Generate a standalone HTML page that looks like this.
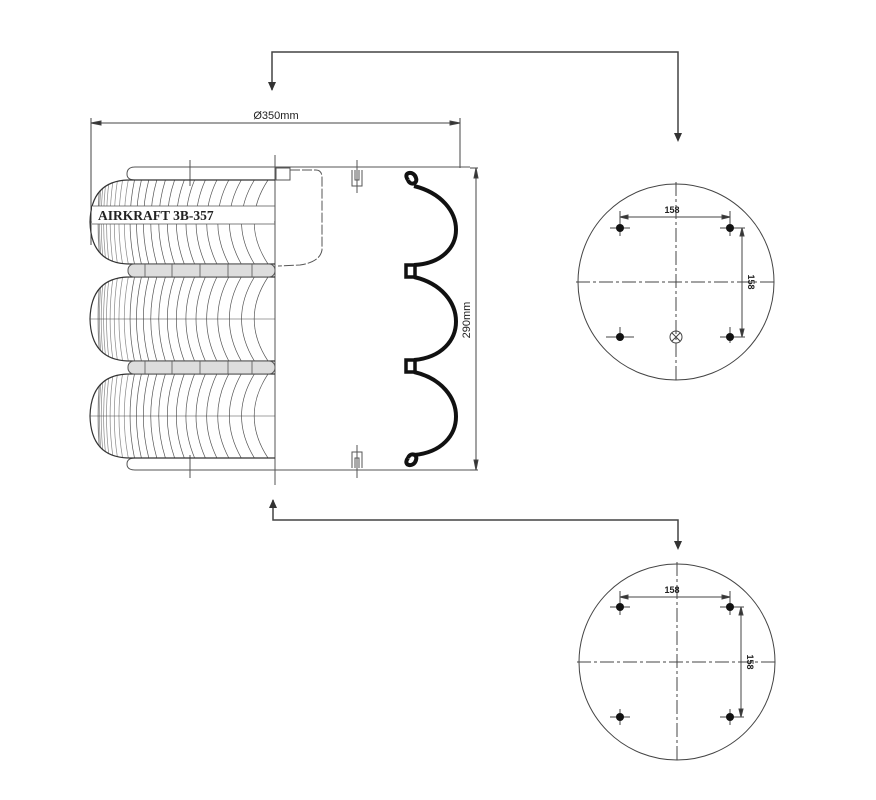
<!DOCTYPE html>
<html><head><meta charset="utf-8">
<style>html,body{margin:0;padding:0;background:#fff;}svg{display:block}</style>
</head><body>
<svg id="s" width="876" height="800" viewBox="0 0 876 800" xmlns="http://www.w3.org/2000/svg" font-family="Liberation Sans, sans-serif">
<defs id="defs"></defs>
<g fill="none" stroke="#444" stroke-width="1.5">
<path d="M272,90 L272,52 L678,52 L678,140"/>
<path d="M268,82 L276,82 L272,91 Z M674,133 L682,133 L678,142 Z" fill="#333" stroke="none"/>
<path d="M273,500 L273,520 L678,520 L678,548"/>
<path d="M269,508 L277,508 L273,499 Z M674,541 L682,541 L678,550 Z" fill="#333" stroke="none"/>
</g>
<g stroke="#444" stroke-width="1" fill="none">
<line x1="91" y1="123" x2="460" y2="123"/>
<line x1="91" y1="118" x2="91" y2="245"/>
<line x1="460" y1="118" x2="460" y2="168"/>
<path d="M91,123 l10,-2 v4 Z M460,123 l-10,-2 v4 Z" fill="#333"/>
<line x1="470" y1="168" x2="478" y2="168"/>
<line x1="470" y1="470" x2="478" y2="470"/>
<line x1="476" y1="168" x2="476" y2="470"/>
<path d="M476,168 l-2,10 h4 Z M476,470 l-2,-10 h4 Z" fill="#333"/>
</g>
<text x="276" y="119" font-size="11" text-anchor="middle" fill="#222">Ø350mm</text>
<text transform="translate(470,320) rotate(-90)" font-size="11" text-anchor="middle" fill="#222">290mm</text>
<g stroke="#555" stroke-width="1" fill="none">
<line x1="275" y1="167" x2="470" y2="167"/>
<line x1="275" y1="470" x2="470" y2="470"/>
<path d="M275,167 L135,167 Q127,167 127,174 Q127,180 135,180 L275,180"/>
<path d="M275,458 L135,458 Q127,458 127,464 Q127,470 135,470 L275,470"/>
<line x1="275" y1="155" x2="275" y2="485"/>
<line x1="190" y1="160" x2="190" y2="186"/>
<line x1="190" y1="455" x2="190" y2="478"/>
<rect x="276" y="168" width="14" height="12"/>
<path d="M290,170 L316,170 Q322,170 322,178 L322,250 Q320,262 300,265 L278,266" stroke-dasharray="10,2"/>
<path d="M352,170 L352,186 L362,186 L362,170 M355,170 l0,10 l4,0 l0,-10 M357,160 v33"/>
<path d="M352,468 L352,452 L362,452 L362,468 M355,468 l0,-10 l4,0 l0,10 M357,445 v33"/>
</g>
<g id="bel" stroke="#444" stroke-width="0.8" fill="none"></g>
<g stroke="#555" stroke-width="1" fill="#ddd">
<rect x="128" y="264" width="147" height="13" rx="6"/>
<rect x="128" y="361" width="147" height="13" rx="6"/>
</g>
<g stroke="#555" stroke-width="0.8">
<line x1="145" y1="264" x2="145" y2="277"/><line x1="172" y1="264" x2="172" y2="277"/><line x1="200" y1="264" x2="200" y2="277"/><line x1="228" y1="264" x2="228" y2="277"/><line x1="252" y1="264" x2="252" y2="277"/>
<line x1="145" y1="361" x2="145" y2="374"/><line x1="172" y1="361" x2="172" y2="374"/><line x1="200" y1="361" x2="200" y2="374"/><line x1="228" y1="361" x2="228" y2="374"/><line x1="252" y1="361" x2="252" y2="374"/>
</g>
<rect x="92" y="206" width="182" height="18" fill="#fff"/>
<line x1="92" y1="206" x2="275" y2="206" stroke="#555" stroke-width="0.8"/>
<line x1="92" y1="224" x2="275" y2="224" stroke="#555" stroke-width="0.8"/>
<text x="98" y="220" font-family="Liberation Serif, serif" font-weight="bold" font-size="13.5" fill="#222">AIRKRAFT 3B-357</text>
<g fill="none" stroke="#111" stroke-width="4">
<path d="M414,186 C470,200 470,262 414,265"/>
<path d="M414,277 C470,290 470,355 414,360"/>
<path d="M414,372 C470,385 470,450 414,455"/>
<path d="M408,180 C402,172 414,170 416,178 C418,184 410,186 408,180"/>
<path d="M408,458 C402,466 414,468 416,460 C418,454 410,452 408,458"/>
<rect x="406" y="265" width="9" height="12" stroke-width="3.5"/>
<rect x="406" y="360" width="9" height="12" stroke-width="3.5"/>
</g>
<g stroke="#444" stroke-width="1" fill="none">
<circle cx="676" cy="282" r="98"/>
<line x1="676" y1="182" x2="676" y2="382" stroke-dasharray="14,3,3,3"/>
<line x1="576" y1="282" x2="776" y2="282" stroke-dasharray="14,3,3,3"/>
<line x1="620" y1="211" x2="620" y2="222"/><line x1="730" y1="211" x2="730" y2="222"/>
<line x1="620" y1="217" x2="730" y2="217"/>
<path d="M620,217 l8,-2 v4 Z M730,217 l-8,-2 v4 Z" fill="#333"/>
<line x1="742" y1="228" x2="742" y2="337"/>
<line x1="735" y1="228" x2="745" y2="228"/><line x1="735" y1="337" x2="745" y2="337"/>
<path d="M742,228 l-2,8 h4 Z M742,337 l-2,-8 h4 Z" fill="#333"/>
<path d="M610,228 h20 M620,220 v16 M720,228 h20 M730,220 v16 M606,337 h28 M620,327 v14 M720,337 h20 M730,327 v16"/>
<circle cx="676" cy="337" r="6"/>
<path d="M672,333 l8,8 M680,333 l-8,8"/>
</g>
<g fill="#111"><circle cx="620" cy="228" r="4"/><circle cx="730" cy="228" r="4"/><circle cx="620" cy="337" r="4"/><circle cx="730" cy="337" r="4"/></g>
<text x="672" y="213" font-size="9" text-anchor="middle" font-weight="bold" fill="#222">158</text>
<text transform="translate(748,282) rotate(90)" font-size="9" text-anchor="middle" font-weight="bold" fill="#222">158</text>
<g stroke="#444" stroke-width="1" fill="none">
<circle cx="677" cy="662" r="98"/>
<line x1="677" y1="562" x2="677" y2="762" stroke-dasharray="14,3,3,3"/>
<line x1="577" y1="662" x2="777" y2="662" stroke-dasharray="14,3,3,3"/>
<line x1="620" y1="591" x2="620" y2="602"/><line x1="730" y1="591" x2="730" y2="602"/>
<line x1="620" y1="597" x2="730" y2="597"/>
<path d="M620,597 l8,-2 v4 Z M730,597 l-8,-2 v4 Z" fill="#333"/>
<line x1="741" y1="607" x2="741" y2="717"/>
<line x1="734" y1="607" x2="744" y2="607"/><line x1="734" y1="717" x2="744" y2="717"/>
<path d="M741,607 l-2,8 h4 Z M741,717 l-2,-8 h4 Z" fill="#333"/>
<path d="M610,607 h20 M620,599 v16 M720,607 h20 M730,599 v16 M610,717 h20 M620,709 v16 M720,717 h20 M730,709 v16"/>
</g>
<g fill="#111"><circle cx="620" cy="607" r="4"/><circle cx="730" cy="607" r="4"/><circle cx="620" cy="717" r="4"/><circle cx="730" cy="717" r="4"/></g>
<text x="672" y="593" font-size="9" text-anchor="middle" font-weight="bold" fill="#222">158</text>
<text transform="translate(747,662) rotate(90)" font-size="9" text-anchor="middle" font-weight="bold" fill="#222">158</text>
</svg>
<script>
(function(){
var g=document.getElementById('bel'),defs=document.getElementById('defs'),ns='http://www.w3.org/2000/svg';
function mk(tag,attrs,parent){var e=document.createElementNS(ns,tag);for(var k in attrs)e.setAttribute(k,attrs[k]);parent.appendChild(e);return e;}
var bs=[[180,264],[277,361],[374,458]];
bs.forEach(function(b,idx){
var t=b[0],bt=b[1],m=(t+bt)/2;
var outline='M275,'+t+' L130,'+t+' Q91,'+t+' 90,'+m+' Q91,'+bt+' 130,'+bt+' L275,'+bt+' Z';
var cp=mk('clipPath',{id:'cb'+idx},defs);mk('path',{d:outline},cp);
var gg=mk('g',{'clip-path':'url(#cb'+idx+')'},g);
var N=24;
for(var i=0;i<N;i++){var f=i/(N-1);var x=100+(268-100)*Math.pow(f,1.9);var d=Math.max(3,(x-92)*0.14+3);
mk('path',{d:'M'+x.toFixed(1)+','+t+' Q'+(x-d).toFixed(1)+','+m+' '+x.toFixed(1)+','+bt,'stroke-width':0.7,stroke:i<10?'#888':'#555'},gg);}
mk('path',{d:'M90,'+m+' L275,'+m,'stroke-width':0.6},g);
mk('path',{d:'M275,'+t+' L130,'+t+' Q91,'+t+' 90,'+m+' Q91,'+bt+' 130,'+bt+' L275,'+bt,'stroke-width':1.2,stroke:'#333'},g);
});
})();
</script>
</body></html>
